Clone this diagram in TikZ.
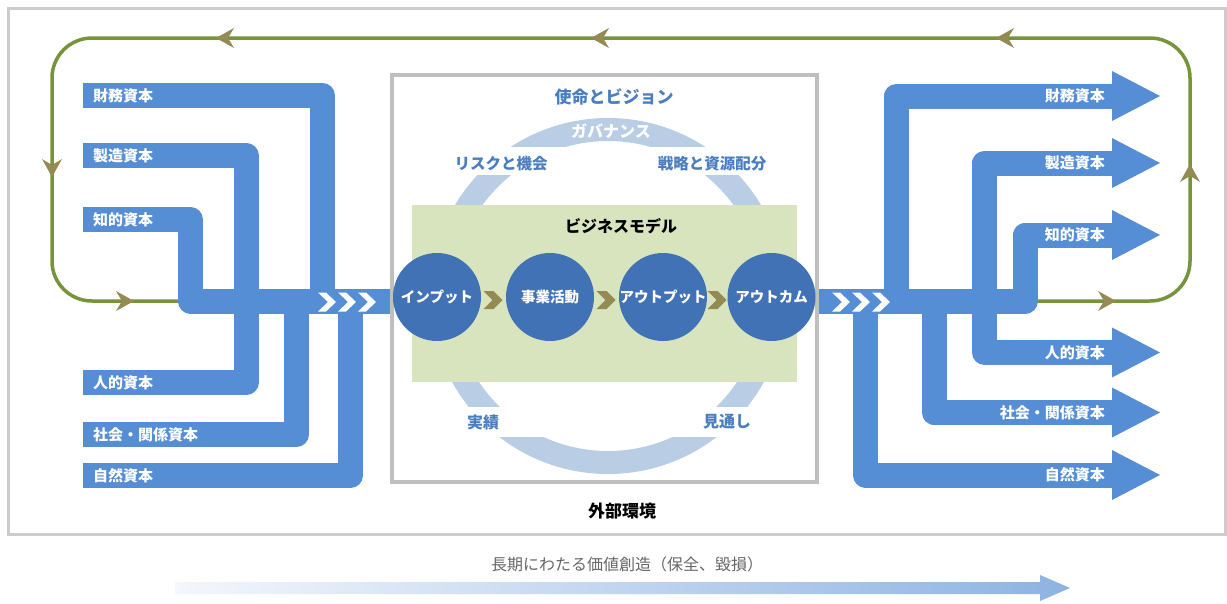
\documentclass[tikz,border=0pt]{standalone}
\usepackage{fontspec}
\setmainfont{Noto Sans CJK JP}
\usetikzlibrary{calc}
\definecolor{bandblue}{HTML}{558ED5}
\definecolor{circblue}{HTML}{4272B6}
\definecolor{txtblue}{HTML}{4A7EBF}
\definecolor{ringblue}{HTML}{B9CDE5}
\definecolor{bmgreen}{HTML}{D7E4BD}
\definecolor{boxgray}{HTML}{BFBFBF}
\definecolor{framegray}{HTML}{CCCCCC}
\definecolor{loopgreen}{HTML}{77933C}
\definecolor{tanc}{HTML}{948A54}
\definecolor{lightarrow}{HTML}{F4F7FC}
\definecolor{darkarrow}{HTML}{8DB3E2}
\newcommand\fsz[1]{\fontsize{#1}{#1}\selectfont}
% chevron: x, y, colour, half height, thickness, point depth
\newcommand\chevshape[6]{\fill[#3] ({#1-(#5+#6)/2},{#2-#4}) -- ++(#5,0) -- ++(#6,#4) -- ++(-#6,#4) -- ++(-#5,0) -- ++(#6,-#4) -- cycle;}
% loop arrow head: x, y, rotation
\newcommand\looparrow[3]{\begin{scope}[shift={(#1,#2)},rotate=#3]\fill[tanc] (9,0) -- (-9,10) -- (-3,0) -- (-9,-10) -- cycle;\end{scope}}
% right arrow head at y
\newcommand\rhead[1]{\fill[bandblue] (1112,{#1-25}) -- (1160,#1) -- (1112,{#1+25}) -- cycle;}
\tikzset{
  band/.style={draw=bandblue, line width=25pt, line cap=butt, line join=round},
  lbl/.style={text=white, font=\fsz{15}\bfseries, inner sep=0pt},
  ctxt/.style={text=white, font=\fsz{14.5}\bfseries, inner sep=0pt},
  bluetxt/.style={text=txtblue, font=\fsz{15.5}\bfseries, inner sep=0pt},
  circ/.style={circle, fill=circblue, minimum size=88pt, inner sep=0pt},
}
\begin{document}
\begin{tikzpicture}[x=1pt,y=-1pt]
\useasboundingbox (0,0) rectangle (1227,603);
\fill[white] (0,0) rectangle (1227,603);
% outer frame
\draw[framegray, line width=3pt] (8,8) rectangle (1225,534);
% green loop
\draw[loopgreen, line width=3.5pt, rounded corners=40pt] (180,301) -- (52,301) -- (52,38) -- (1190,38) -- (1190,301) -- (1035,301);
\looparrow{225}{38}{180}
\looparrow{600}{38}{180}
\looparrow{1005}{38}{180}
\looparrow{52}{168}{-90}
\looparrow{125}{301}{0}
\looparrow{1190}{173}{90}
\looparrow{1107}{301}{0}
% left bands
\draw[band] (83,95.5) -- (322.5,95.5) -- (322.5,301);
\draw[band] (83,155.5) -- (246,155.5) -- (246,301);
\draw[band] (83,219.5) -- (190.5,219.5) -- (190.5,301) -- (393,301);
\draw[band] (83,382.5) -- (246,382.5) -- (246,301);
\draw[band] (83,434.5) -- (296.5,434.5) -- (296.5,301);
\draw[band] (83,475.5) -- (350.5,475.5) -- (350.5,301);
\chevshape{327}{302}{white}{9.5}{8}{10}
\chevshape{347}{302}{white}{9.5}{8}{10}
\chevshape{367}{302}{white}{9.5}{8}{10}
\node[lbl, anchor=west] (lzaimu) at (93,95.5) {財務資本};
\node[lbl, anchor=west] (lseizo) at (93,155.5) {製造資本};
\node[lbl, anchor=west] (lchiteki) at (93,219.5) {知的資本};
\node[lbl, anchor=west] (ljinteki) at (93,382.5) {人的資本};
\node[lbl, anchor=west] (lshakai) at (93,434.5) {社会・関係資本};
\node[lbl, anchor=west] (lshizen) at (93,475.5) {自然資本};
% right bands
\draw[band] (896.5,301) -- (896.5,96) -- (1113,96);
\draw[band] (984.5,301) -- (984.5,163) -- (1113,163);
\draw[band] (816,301) -- (1025,301) -- (1025,235) -- (1113,235);
\draw[band] (984.5,301) -- (984.5,352.5) -- (1113,352.5);
\draw[band] (934,301) -- (934,412.5) -- (1113,412.5);
\draw[band] (865.5,301) -- (865.5,475) -- (1113,475);
\rhead{96}
\rhead{163}
\rhead{235}
\rhead{352.5}
\rhead{412.5}
\rhead{475}
\chevshape{841}{302}{white}{9.5}{8}{10}
\chevshape{861}{302}{white}{9.5}{8}{10}
\chevshape{881}{302}{white}{9.5}{8}{10}
\node[lbl, anchor=east] (rzaimu) at (1105,96) {財務資本};
\node[lbl, anchor=east] (rseizo) at (1105,163) {製造資本};
\node[lbl, anchor=east] (rchiteki) at (1105,235) {知的資本};
\node[lbl, anchor=east] (rjinteki) at (1105,352.5) {人的資本};
\node[lbl, anchor=east] (rshakai) at (1105,412.5) {社会・関係資本};
\node[lbl, anchor=east] (rshizen) at (1105,475) {自然資本};
% centre box
\fill[white] (392,75) rectangle (817,482);
\fill[ringblue, even odd rule] (608,296) circle[radius=178] (608,296) circle[radius=155];
\fill[white] (396,147) rectangle (813,175);
\fill[white] (396,407) rectangle (813,437);
\fill[bmgreen] (412,205) rectangle (797,382);
\draw[boxgray, line width=4pt] (392,75) rectangle (817,482);
\node[bluetxt, font=\fsz{17}\bfseries] (mission) at (614,97) {使命とビジョン};
\node[text=white, font=\fsz{16}\bfseries, inner sep=0pt] (gov) at (611,131) {ガバナンス};
\node[bluetxt] (risk) at (501,164) {リスクと機会};
\node[bluetxt] (strat) at (712,164) {戦略と資源配分};
\node[font=\fsz{16}\bfseries, inner sep=0pt] (bm) at (621,226) {ビジネスモデル};
\node[bluetxt, font=\fsz{16}\bfseries] (perf) at (483,422) {実績};
\node[bluetxt, font=\fsz{16}\bfseries] (outlook) at (727,422) {見通し};
\node[circ] (c1) at (437,297) {};
\node[circ] (c2) at (550,297) {};
\node[circ] (c3) at (663,297) {};
\node[circ] (c4) at (771.5,297) {};
\node[ctxt] (t1) at (c1) {インプット};
\node[ctxt] (t2) at (c2) {事業活動};
\node[ctxt] (t3) at (c3) {アウトプット};
\node[ctxt] (t4) at (c4) {アウトカム};
\chevshape{493}{300}{tanc}{9}{10}{9}
\chevshape{606}{300}{tanc}{9}{10}{9}
\chevshape{717}{300}{tanc}{9}{10}{9}
\node[font=\fsz{17}\bfseries, inner sep=0pt] (ext) at (622,511) {外部環境};
% bottom arrow
\shade[left color=lightarrow, right color=darkarrow] (175,582) -- (1040,582) -- (1040,575) -- (1070,588) -- (1040,601) -- (1040,594) -- (175,594) -- cycle;
\node[text=black!60, font=\fsz{16}, inner sep=0pt] (longterm) at (627,564) {長期にわたる価値創造（保全、毀損）};
\end{tikzpicture}
\end{document}
